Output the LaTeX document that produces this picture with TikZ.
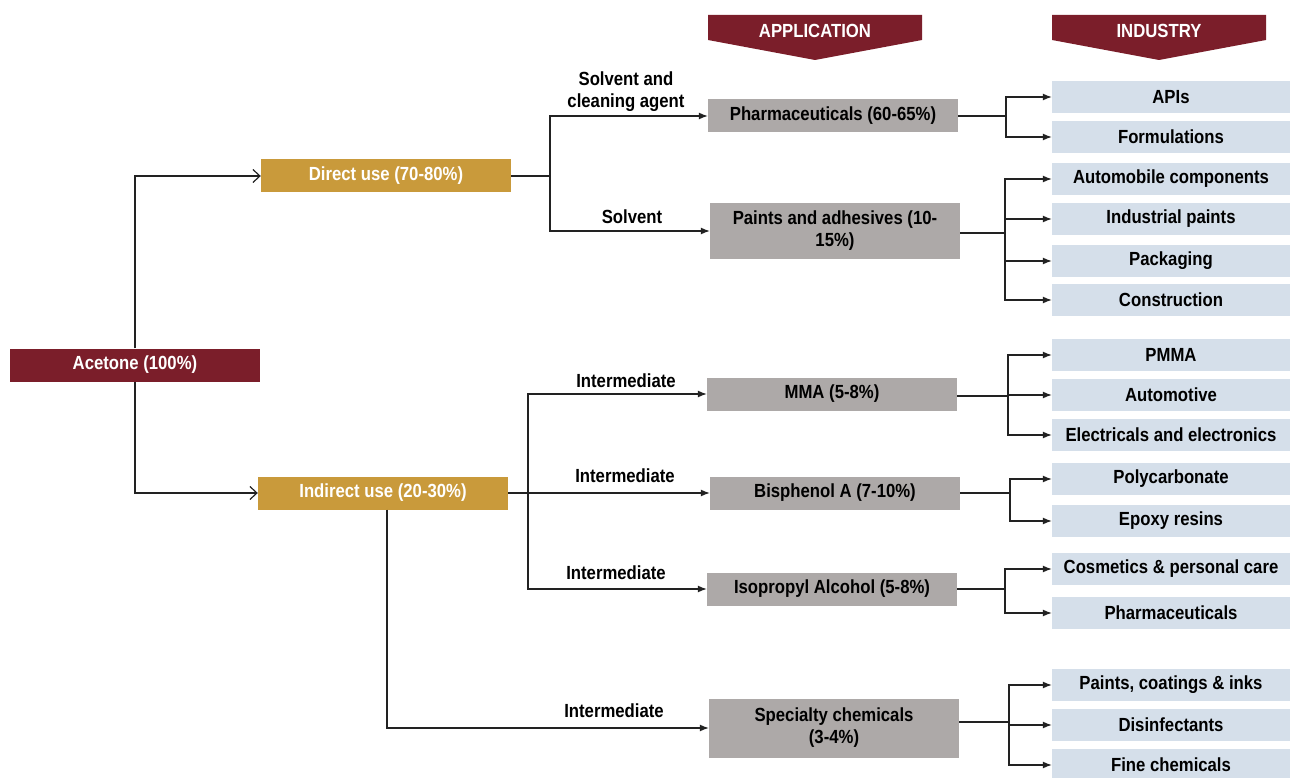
\documentclass[tikz,border=0pt]{standalone}
\usepackage{fontspec}
\setmainfont[FakeStretch=0.88]{Liberation Sans}
\usetikzlibrary{arrows.meta}

\definecolor{acered}{HTML}{7B1E2A}
\definecolor{usegold}{HTML}{C99A3B}
\definecolor{appgrey}{HTML}{ADA9A8}
\definecolor{indblue}{HTML}{D5DFEA}
\definecolor{linegrey}{HTML}{222222}

\begin{document}
\begin{tikzpicture}[x=1pt,y=-1pt,
    every node/.style={font=\fontsize{19}{22}\selectfont\bfseries, inner sep=0pt},
    source/.style={fill=acered, text=white, minimum width=250, minimum height=33},
    usebox/.style={fill=usegold, text=white, minimum width=250, minimum height=33},
    appbox/.style={fill=appgrey, text=black, minimum width=250, minimum height=33, align=center},
    indbox/.style={fill=indblue, text=black, minimum width=238, minimum height=32},
    flowlabel/.style={text=black},
    banner/.style={fill=acered},
    bannertext/.style={text=white},
    conn/.style={draw=linegrey, line width=1.2pt},
    trunk/.style={draw=linegrey, line width=1.8pt},
    feed/.style={conn, -{Latex[length=9pt,width=7pt]}},
    split/.style={conn, -{Straight Barb[length=7pt,width=13pt]}}]
    \useasboundingbox (0,0) rectangle (1291,778);

    %Headers
    \fill[banner] (708,15) -- (922,15) -- (922,40) -- (815,60) -- (708,40) -- cycle;
    \fill[banner] (1052,15) -- (1266,15) -- (1266,40) -- (1159,60) -- (1052,40) -- cycle;
    \node[bannertext] at (815,31) (apphead) {APPLICATION};
    \node[bannertext] at (1159,31) (indhead) {INDUSTRY};

    %Nodes
    \node[source] at (135,365) (ace) {Acetone (100\%)};
    \node[usebox] at (386,176) (direct) {Direct use (70-80\%)};
    \node[usebox] at (383,493) (indirect) {Indirect use (20-30\%)};

    \node[appbox] at (833,116) (pharma) {Pharmaceuticals (60-65\%)};
    \node[appbox, minimum height=56] at (835,231) (paints) {Paints and adhesives (10-\\15\%)};
    \node[appbox] at (832,394) (mma) {MMA (5-8\%)};
    \node[appbox] at (835,493) (bpa) {Bisphenol A (7-10\%)};
    \node[appbox] at (832,589) (ipa) {Isopropyl Alcohol (5-8\%)};
    \node[appbox, minimum height=59] at (834,728) (spec) {Specialty chemicals\\(3-4\%)};

    \node[indbox] at (1171,97)  (apis)   {APIs};
    \node[indbox] at (1171,137) (form)   {Formulations};
    \node[indbox] at (1171,179) (auto)   {Automobile components};
    \node[indbox] at (1171,219) (indp)   {Industrial paints};
    \node[indbox] at (1171,261) (pack)   {Packaging};
    \node[indbox] at (1171,300) (cons)   {Construction};
    \node[indbox] at (1171,355) (pmma)   {PMMA};
    \node[indbox] at (1171,395) (autom)  {Automotive};
    \node[indbox] at (1171,435) (elec)   {Electricals and electronics};
    \node[indbox] at (1171,479) (pc)     {Polycarbonate};
    \node[indbox] at (1171,521) (epoxy)  {Epoxy resins};
    \node[indbox] at (1171,569) (cosm)   {Cosmetics \& personal care};
    \node[indbox] at (1171,613) (pharm2) {Pharmaceuticals};
    \node[indbox] at (1171,685) (pci)    {Paints, coatings \& inks};
    \node[indbox] at (1171,725) (disinf) {Disinfectants};
    \node[indbox] at (1171,765) (fine)   {Fine chemicals};

    \node[flowlabel, align=center] at (626,92) (lsolv1) {Solvent and\\cleaning agent};
    \node[flowlabel] at (632,217) (lsolv2) {Solvent};
    \node[flowlabel] at (626,381) (lint1) {Intermediate};
    \node[flowlabel] at (625,476) (lint2) {Intermediate};
    \node[flowlabel] at (616,573) (lint3) {Intermediate};
    \node[flowlabel] at (614,711) (lint4) {Intermediate};

    \coordinate (dj) at (550,176);
    \coordinate (ij) at (528,493);
    \coordinate (j1) at (1006,116);
    \coordinate (j2) at (1005,233);
    \coordinate (j3) at (1008,396);
    \coordinate (j4) at (1010,493);
    \coordinate (j5) at (1005,589);
    \coordinate (j6) at (1009,722);

    %Lines
    \draw[split] (ace.north) |- (direct.west);
    \draw[split] (ace.south) |- (indirect.west);

    \draw[conn] (direct.east) -- (dj);
    \draw[feed] (dj) |- (pharma.west);
    \draw[feed] (dj) |- (paints.west);

    \draw[feed] (indirect.east) -- (bpa.west);
    \draw[feed] (ij) |- (mma.west);
    \draw[feed] (ij) |- (ipa.west);
    \draw[feed] ([xshift=4]indirect.south) |- (spec.west);

    \draw[trunk] (pharma.east) -- (j1);
    \draw[feed] (j1) |- (apis.west);
    \draw[feed] (j1) |- (form.west);

    \draw[trunk] (paints.east |- j2) -- (j2);
    \draw[feed] (j2) |- (auto.west);
    \draw[feed] (j2) |- (indp.west);
    \draw[feed] (j2) |- (pack.west);
    \draw[feed] (j2) |- (cons.west);

    \draw[trunk] (mma.east |- j3) -- (j3);
    \draw[feed] (j3) |- (pmma.west);
    \draw[feed] (j3) |- (autom.west);
    \draw[feed] (j3) |- (elec.west);

    \draw[trunk] (bpa.east) -- (j4);
    \draw[feed] (j4) |- (pc.west);
    \draw[feed] (j4) |- (epoxy.west);

    \draw[trunk] (ipa.east) -- (j5);
    \draw[feed] (j5) |- (cosm.west);
    \draw[feed] (j5) |- (pharm2.west);

    \draw[trunk] (spec.east |- j6) -- (j6);
    \draw[feed] (j6) |- (pci.west);
    \draw[feed] (j6) |- (disinf.west);
    \draw[feed] (j6) |- (fine.west);
\end{tikzpicture}
\end{document}
